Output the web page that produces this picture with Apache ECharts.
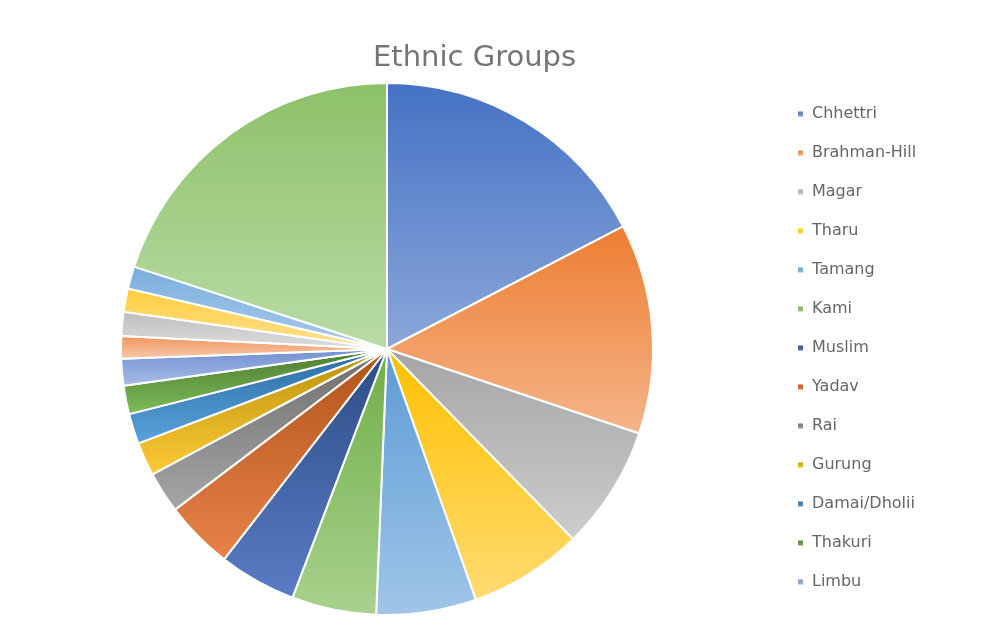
<!DOCTYPE html>
<html>
<head>
<meta charset="utf-8">
<script src="https://cdn.jsdelivr.net/npm/echarts@6/dist/echarts.min.js"></script>
<style>html,body{margin:0;padding:0;background:#fff;}#c{width:1008px;height:636px;}</style>
</head>
<body>
<div id="c"></div>
<script>
const categories = ['Chhettri','Brahman-Hill','Magar','Tharu','Tamang','Kami','Muslim','Yadav','Rai','Gurung','Damai/Dholii','Thakuri','Limbu','Sarki','Teli','Chamar','Koiri','Others'];
const values = [16.6, 12.2, 7.2, 6.6, 5.8, 4.9, 4.5, 4.0, 2.4, 1.95, 1.75, 1.65, 1.55, 1.3, 1.4, 1.35, 1.3, 19.1];
const legendShown = categories.slice(0, 13);
const topColors = ['#4472C4','#ED7D31','#A5A5A5','#FFC000','#5B9BD5','#70AD47','#2C4C85','#B0541A','#6E6E6E','#B8900E','#2A6AA3','#4B7A30','#6F8FD0','#F0935A','#BDBDBD','#FFCC3A','#7AAEDD','#8DC169'];
const bottomColors = ['#8CA7DA','#F5B58A','#CDCDCD','#FFDB70','#A0C5E8','#A8D28E','#5A7CC4','#E8834A','#A6A6A6','#FFCB35','#5AA3DC','#7DBD5A','#A9BDE8','#F8CBAE','#DEDEDE','#FFE294','#A9CBEC','#B9DCA6'];

const data = categories.map((n, i) => ({
  name: n,
  value: values[i],
  itemStyle: {
    color: {type:'linear', x:0, y:0, x2:0, y2:1, colorStops:[{offset:0,color:topColors[i]},{offset:1,color:bottomColors[i]}]}
  }
}));

const chart = echarts.init(document.getElementById('c'), null, {renderer:'canvas'});
chart.setOption({
  animation: false,
  color: topColors,
  title: {
    text: 'Ethnic Groups',
    left: 368, top: 39,
    textStyle: {fontFamily: 'DejaVu Sans', fontSize: 29, fontWeight: 'normal', color: '#757575'}
  },
  legend: {
    data: legendShown,
    orient: 'vertical',
    left: 791, top: 101,
    itemWidth: 7, itemHeight: 7,
    itemGap: 23,
    icon: 'rect',
    textStyle: {fontFamily: 'DejaVu Sans', fontSize: 16, color: '#666666', lineHeight: 16, padding: [0,0,0,3]}
  },
  series: [{
    type: 'pie',
    center: [387, 349],
    radius: [0, 266],
    startAngle: 90,
    clockwise: true,
    avoidLabelOverlap: false,
    label: {show: false},
    labelLine: {show: false},
    itemStyle: {borderColor: '#fff', borderWidth: 2},
    emphasis: {disabled: true},
    data: data
  }]
});
</script>
</body>
</html>
